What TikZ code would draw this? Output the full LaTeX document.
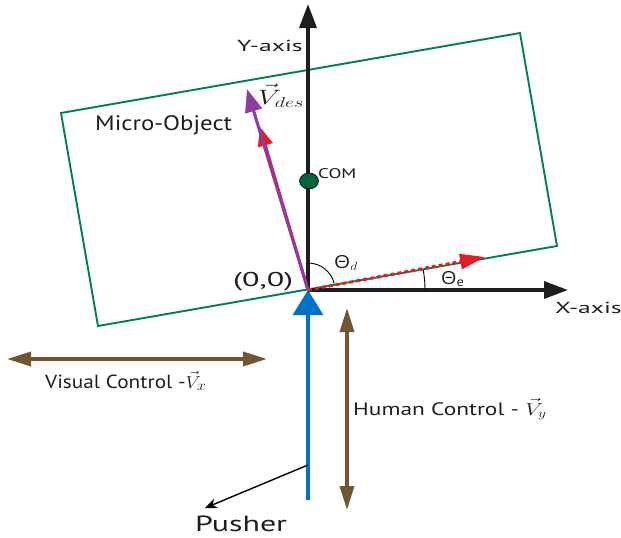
\documentclass[tikz,border=0pt]{standalone}
\usepackage{graphicx}
\usepackage{fontspec}
\setmainfont{PT Sans}
\newfontfamily\grk{Open Sans}
\usetikzlibrary{arrows.meta,shapes.geometric}
\definecolor{objgreen}{RGB}{0,128,80}
\definecolor{comgreen}{RGB}{0,100,60}
\definecolor{vpurple}{RGB}{142,60,160}
\definecolor{vred}{RGB}{232,28,36}
\definecolor{pblue}{RGB}{0,114,198}
\definecolor{cbrown}{RGB}{112,86,50}
\definecolor{axisblack}{RGB}{30,30,30}
\newcommand{\sx}[2]{\scalebox{#1}[1]{#2}}
\tikzset{
  axisline/.style={draw=axisblack,line width=3.4pt,-{Triangle[length=24pt,width=17pt]}},
  ctrl/.style={draw=cbrown,line width=3.4pt,{Triangle[length=24pt,width=14pt]}-{Triangle[length=24pt,width=14pt]}},
  lbl/.style={inner sep=0pt,anchor=base west,text=axisblack},
  anglearc/.style={draw=black,line width=0.9pt},
}
\begin{document}
\begin{tikzpicture}[x=1pt,y=-1pt]
\useasboundingbox (0,0) rectangle (621,538);
% key points
\coordinate (O) at (308,290);
\coordinate (Ytip) at (308,4);
\coordinate (Xtip) at (568,290);
\coordinate (TL) at (61,113);
\coordinate (TR) at (520,33);
\coordinate (BR) at (557,246);
\coordinate (BL) at (98,326);
% micro-object
\draw[objgreen,line width=1.9pt] (TL) -- (TR) -- (BR) -- (BL) -- cycle;
% axes
\draw[axisline] (O) -- (Ytip);
\draw[axisline] (O) -- (Xtip);
% angle arcs
\draw[anglearc] (308,263) arc[start angle=-90,end angle=-14,radius=27];
\draw[anglearc] (425,290) arc[start angle=0,end angle=-10,radius=117];
% red dotted error vector
\coordinate (Etip) at (485,257);
\draw[vred,line width=3pt,dash pattern=on 4pt off 3pt,-{Triangle[length=25pt,width=15pt,sep=0pt]}] (O) -- (Etip);
% red desired head under purple
\coordinate (Rtip) at (260,127);
\draw[vred,line width=2.8pt,-{Triangle[length=19pt,width=15pt]}] (O) -- (Rtip);
% purple V_des
\coordinate (Ptip) at (247,89);
\draw[vpurple,line width=3.1pt,-{Triangle[length=23pt,width=17pt]}] (O) -- (Ptip);
% COM
\node[ellipse,fill=comgreen,draw=black,line width=0.6pt,minimum width=19pt,minimum height=16pt,inner sep=0pt] (com) at (309,181) {};
% pusher
\coordinate (Pbot) at (308,500);
\draw[pblue,line width=3.2pt,-{Triangle[length=25pt,width=30pt]}] (Pbot) -- (O);
\coordinate (Pmid) at (308,465);
\coordinate (Pend) at (205,508);
\draw[black,line width=1.4pt,-{Stealth[length=12pt,width=10pt]}] (Pmid) -- (Pend);
% controls
\coordinate (Vt) at (347,308);
\coordinate (Vb) at (347,510);
\draw[ctrl] (Vt) -- (Vb);
\coordinate (Hl) at (7,359);
\coordinate (Hr) at (267,359);
\draw[ctrl] (Hl) -- (Hr);
% labels
\node[lbl,font=\fontsize{21}{24}\selectfont] (mo) at (95,130) {\sx{1.18}{Micro-Object}};
\node[lbl,font=\fontsize{16}{19}\selectfont] (ya) at (237,51) {\sx{1.6}{Y-axis}};
\node[lbl,font=\fontsize{16}{19}\selectfont] (xa) at (555,313) {\sx{1.6}{X-axis}};
\node[lbl,font=\fontsize{14}{16}\selectfont] (cl) at (318,178) {\sx{1.35}{COM}};
\node[lbl,font=\fontsize{20}{23}\selectfont] (org) at (233,286) {\sx{1.6}{(0,0)}};
\node[lbl,font=\fontsize{19}{22}\selectfont] (vc) at (45,388) {\sx{1.12}{Visual Control -$\vec{V}_{x}$}};
\node[lbl,font=\fontsize{18}{21}\selectfont] (hc) at (353,415) {\sx{1.3}{Human Control - $\vec{V}_{y}$}};
\node[lbl,font=\fontsize{22}{25}\selectfont] (pu) at (195,531) {\sx{1.45}{Pusher}};
\node[lbl,font=\fontsize{21}{24}\selectfont] (vd) at (258,104) {\sx{1.4}{$\vec{V}_{des}$}};
\node[lbl,font=\fontsize{18}{21}\selectfont] (td) at (334,268) {\sx{1.15}{{\grk Θ}$_{d}$}};
\node[lbl,font=\fontsize{18}{21}\selectfont] (te) at (441,284) {\sx{1.1}{{\grk Θ}\raisebox{-2pt}{\fontsize{13}{15}\selectfont e}}};
\end{tikzpicture}
\end{document}
